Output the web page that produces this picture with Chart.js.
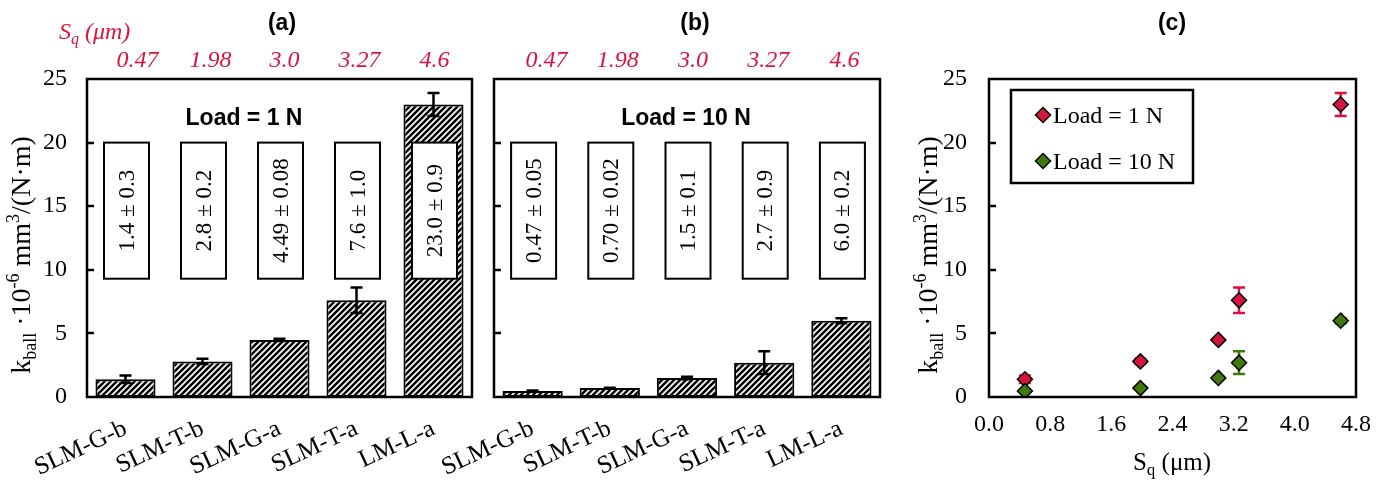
<!DOCTYPE html>
<html>
<head>
<meta charset="utf-8">
<script src="https://cdn.jsdelivr.net/npm/chart.js@4.4.1/dist/chart.umd.min.js"></script>
<style>
  html, body { margin: 0; padding: 0; background: #ffffff; }
  #wrap { position: relative; width: 1389px; height: 480px; overflow: hidden; background: #fff; }
  #wrap canvas { position: absolute; top: 0; }
</style>
</head>
<body>
<div id="wrap">
  <canvas id="panelA" width="480" height="480" style="left:0px"></canvas>
  <canvas id="panelB" width="470" height="480" style="left:430px"></canvas>
  <canvas id="panelC" width="489" height="480" style="left:900px"></canvas>
</div>
<script>
// ---- data ----
const samples   = ['SLM-G-b', 'SLM-T-b', 'SLM-G-a', 'SLM-T-a', 'LM-L-a'];
const sqValues  = [0.47, 1.98, 3.0, 3.27, 4.6];
const sqLabels  = ['0.47', '1.98', '3.0', '3.27', '4.6'];
const k1N       = [1.4, 2.8, 4.49, 7.6, 23.0];
const k1NErr    = [0.3, 0.2, 0.08, 1.0, 0.9];
const k1NDec    = [1, 1, 2, 1, 1];
const k10N      = [0.47, 0.70, 1.5, 2.7, 6.0];
const k10NErr   = [0.05, 0.02, 0.1, 0.9, 0.2];
const k10NDec   = [2, 2, 1, 1, 1];
const kTicks    = [0, 5, 10, 15, 20, 25];
const sqTicks   = [0.0, 0.8, 1.6, 2.4, 3.2, 4.0, 4.8];

const SERIF = '"Liberation Serif", "Times New Roman", serif';
const SANS  = '"Liberation Sans", Arial, sans-serif';
const RED   = '#d8143e';
const GREEN = '#3f7a0a';

Chart.defaults.font.family = SERIF;
Chart.defaults.color = '#000';

function valueText(vals, errs, dec) {
  return vals.map((v, i) => v.toFixed(dec[i]) + ' \u00b1 ' + errs[i].toFixed(dec[i]));
}

// diagonal hatch fill for the bars
function hatchPattern(ctx) {
  const s = 6;
  const c = document.createElement('canvas');
  c.width = s; c.height = s;
  const g = c.getContext('2d');
  g.fillStyle = '#fff'; g.fillRect(0, 0, s, s);
  g.strokeStyle = '#000'; g.lineWidth = 2.5; g.lineCap = 'square';
  g.beginPath();
  g.moveTo(-1, s + 1); g.lineTo(s + 1, -1);
  g.moveTo(-2, 2); g.lineTo(2, -2);
  g.moveTo(s - 2, s + 2); g.lineTo(s + 2, s - 2);
  g.stroke();
  return ctx.createPattern(c, 'repeat');
}

// text with sub/superscript parts along one baseline
function richWidth(ctx, parts) {
  let w = 0;
  parts.forEach(p => { ctx.font = p.font; w += ctx.measureText(p.t).width; });
  return w;
}
function drawRich(ctx, parts, x, y) {
  let cx = x;
  parts.forEach(p => {
    ctx.font = p.font;
    ctx.fillText(p.t, cx, y + (p.dy || 0));
    cx += ctx.measureText(p.t).width;
  });
}
function kTitleParts() {
  const big = '28px ' + SERIF, small = '18px ' + SERIF;
  return [
    { t: 'k', font: big },
    { t: 'ball', font: small, dy: 6 },
    { t: ' \u00b710', font: big },
    { t: '-6', font: small, dy: -11 },
    { t: ' mm', font: big },
    { t: '3', font: small, dy: -11 },
    { t: '/(N\u00b7m)', font: big }
  ];
}
function drawKTitle(ctx, baseX, centerY) {
  const parts = kTitleParts();
  ctx.save();
  ctx.fillStyle = '#000';
  ctx.textAlign = 'left';
  ctx.textBaseline = 'alphabetic';
  const w = richWidth(ctx, parts);
  ctx.translate(baseX, centerY);
  ctx.rotate(-Math.PI / 2);
  drawRich(ctx, parts, -w / 2, 0);
  ctx.restore();
}

// frame around the plot area with inward tick marks on the value axis
const framePlugin = {
  id: 'frame',
  afterDraw(chart) {
    const { ctx, chartArea: a } = chart;
    const y = chart.scales.y;
    ctx.save();
    ctx.strokeStyle = '#000';
    ctx.lineWidth = 2.5;
    kTicks.forEach(v => {
      if (v === y.min || v === y.max) return;
      const py = Math.round(y.getPixelForValue(v));
      ctx.beginPath(); ctx.moveTo(a.left, py); ctx.lineTo(a.left + 7, py); ctx.stroke();
    });
    ctx.strokeRect(a.left, a.top, a.right - a.left, a.bottom - a.top);
    ctx.restore();
  }
};

// value boxes, error bars and panel texts for the bar panels
const barDecor = {
  id: 'barDecor',
  afterDatasetsDraw(chart, args, o) {
    const ctx = chart.ctx;
    const y = chart.scales.y;
    const meta = chart.getDatasetMeta(0);
    const ds = chart.data.datasets[0];
    meta.data.forEach((bar, i) => {
      const top = y.getPixelForValue(20);
      const bot = y.getPixelForValue(9.3);
      const w = 45;
      const cx = bar.x + 1;
      ctx.save();
      ctx.fillStyle = '#fff';
      ctx.fillRect(cx - w / 2, top, w, bot - top);
      ctx.strokeStyle = '#000'; ctx.lineWidth = 2;
      ctx.strokeRect(cx - w / 2, top, w, bot - top);
      ctx.translate(cx, (top + bot) / 2);
      ctx.rotate(-Math.PI / 2);
      ctx.fillStyle = '#000';
      ctx.font = '23px ' + SERIF;
      ctx.textAlign = 'center'; ctx.textBaseline = 'middle';
      ctx.fillText(o.texts[i], 0, 1);
      ctx.restore();
    });
    ctx.save();
    ctx.strokeStyle = '#000'; ctx.lineWidth = 2.5;
    meta.data.forEach((bar, i) => {
      const v = ds.data[i], e = o.errors[i];
      const y1 = y.getPixelForValue(v + e), y2 = y.getPixelForValue(v - e);
      ctx.beginPath();
      ctx.moveTo(bar.x, y1); ctx.lineTo(bar.x, y2);
      ctx.moveTo(bar.x - 6, y1); ctx.lineTo(bar.x + 6, y1);
      ctx.moveTo(bar.x - 6, y2); ctx.lineTo(bar.x + 6, y2);
      ctx.stroke();
    });
    ctx.restore();
  },
  afterDraw(chart, args, o) {
    const ctx = chart.ctx;
    const x = chart.scales.x;
    ctx.save();
    ctx.fillStyle = '#000';
    ctx.textAlign = 'center'; ctx.textBaseline = 'middle';
    ctx.font = 'bold 23px ' + SANS;
    ctx.fillText(o.title, o.titleX, 24);
    ctx.font = 'bold 23px ' + SANS;
    ctx.fillText(o.load, o.loadX, 119);
    // roughness values above each sample
    ctx.fillStyle = RED;
    ctx.font = 'italic 24px ' + SERIF;
    ctx.textBaseline = 'alphabetic';
    sqLabels.forEach((t, i) => {
      ctx.fillText(t, x.getPixelForValue(i) + o.sqShift[i], 67);
    });
    if (o.sqHeader) {
      ctx.textAlign = 'left';
      drawRich(ctx, [
        { t: 'S', font: 'italic 24px ' + SERIF },
        { t: 'q', font: 'italic 16px ' + SERIF, dy: 5 },
        { t: ' (\u03bcm)', font: 'italic 24px ' + SERIF }
      ], 59, 39);
    }
    if (o.yTitle) drawKTitle(ctx, 30, 255);
    ctx.restore();
  }
};

function barPanel(id, values, errs, texts, areaLeft, areaRight, deco) {
  const canvas = document.getElementById(id);
  const ctx = canvas.getContext('2d');
  return new Chart(ctx, {
    type: 'bar',
    data: {
      labels: samples,
      datasets: [{
        data: values,
        backgroundColor: hatchPattern(ctx),
        borderColor: '#000',
        borderWidth: 2,
        borderSkipped: false,
        barPercentage: 0.78,
        categoryPercentage: 1.0
      }]
    },
    options: {
      responsive: false,
      animation: false,
      devicePixelRatio: 1,
      layout: { padding: { top: 79, right: canvas.width - areaRight, left: 0, bottom: 0 } },
      scales: {
        x: {
          grid: { display: false, drawTicks: false },
          border: { display: false },
          ticks: {
            autoSkip: false, minRotation: 25, maxRotation: 25, padding: 17,
            font: { size: 25, family: SERIF }, color: '#000'
          },
          afterFit(s) { s.height = 83; s.paddingLeft = 0; s.paddingRight = 0; }
        },
        y: {
          min: 0, max: 25,
          afterBuildTicks(s) { s.ticks = kTicks.map(v => ({ value: v })); },
          grid: { display: false, drawTicks: false },
          border: { display: false },
          ticks: {
            display: deco.yLabels, padding: 20,
            font: { size: 24, family: SERIF }, color: '#000'
          },
          afterFit(s) { s.width = areaLeft; }
        }
      },
      plugins: {
        legend: { display: false },
        tooltip: { enabled: false },
        barDecor: Object.assign({ texts, errors: errs }, deco)
      }
    },
    plugins: [barDecor, framePlugin]
  });
}

barPanel('panelA', k1N, k1NErr, valueText(k1N, k1NErr, k1NDec), 87, 472, {
  yLabels: true, title: '(a)', titleX: 282, load: 'Load = 1 N', loadX: 244,
  sqShift: [12, 8, 5, 3, 1], sqHeader: true, yTitle: true
});
barPanel('panelB', k10N, k10NErr, valueText(k10N, k10NErr, k10NDec), 64, 450, {
  yLabels: false, title: '(b)', titleX: 265, load: 'Load = 10 N', loadX: 256,
  sqShift: [14, 8, 6, 4, 3], sqHeader: false, yTitle: false
});

// ---- panel (c): k versus Sq ----
const scatterDecor = {
  id: 'scatterDecor',
  beforeDatasetsDraw(chart, args, o) {
    const ctx = chart.ctx;
    const { x, y } = chart.scales;
    ctx.save();
    ctx.lineWidth = 2.5;
    chart.data.datasets.forEach((ds, di) => {
      ctx.strokeStyle = ds.backgroundColor;
      const errs = o.errors[di];
      ds.data.forEach((p, i) => {
        const px = x.getPixelForValue(p.x);
        const y1 = y.getPixelForValue(p.y + errs[i]), y2 = y.getPixelForValue(p.y - errs[i]);
        ctx.beginPath();
        ctx.moveTo(px, y1); ctx.lineTo(px, y2);
        ctx.moveTo(px - 6, y1); ctx.lineTo(px + 6, y1);
        ctx.moveTo(px - 6, y2); ctx.lineTo(px + 6, y2);
        ctx.stroke();
      });
    });
    ctx.restore();
  },
  afterDraw(chart) {
    const ctx = chart.ctx;
    ctx.save();
    ctx.fillStyle = '#000';
    ctx.textAlign = 'center'; ctx.textBaseline = 'middle';
    ctx.font = 'bold 23px ' + SANS;
    ctx.fillText('(c)', 272, 24);
    // legend
    ctx.fillStyle = '#fff';
    ctx.fillRect(111, 90, 182, 93);
    ctx.strokeStyle = '#000'; ctx.lineWidth = 2.5;
    ctx.strokeRect(111, 90, 182, 93);
    [chart.data.datasets[1], chart.data.datasets[0]].forEach((ds, r) => {
      const cy = 115 + r * 46;
      ctx.fillStyle = ds.backgroundColor;
      ctx.strokeStyle = '#000'; ctx.lineWidth = 1.5;
      ctx.beginPath();
      ctx.moveTo(143, cy - 7.5); ctx.lineTo(150.5, cy); ctx.lineTo(143, cy + 7.5); ctx.lineTo(135.5, cy);
      ctx.closePath(); ctx.fill(); ctx.stroke();
      ctx.fillStyle = '#000';
      ctx.font = '24px ' + SERIF;
      ctx.textAlign = 'left'; ctx.textBaseline = 'alphabetic';
      ctx.fillText(ds.label, 153, cy + 8);
    });
    // axis titles
    drawKTitle(ctx, 37, 255);
    ctx.fillStyle = '#000';
    ctx.textAlign = 'left'; ctx.textBaseline = 'alphabetic';
    const parts = [
      { t: 'S', font: '25px ' + SERIF },
      { t: 'q', font: '17px ' + SERIF, dy: 5 },
      { t: ' (\u03bcm)', font: '25px ' + SERIF }
    ];
    const w = richWidth(ctx, parts);
    drawRich(ctx, parts, 272 - w / 2, 470);
    ctx.restore();
  }
};

(function () {
  const canvas = document.getElementById('panelC');
  const ctx = canvas.getContext('2d');
  new Chart(ctx, {
    type: 'scatter',
    data: {
      datasets: [
        {
          label: 'Load = 10 N',
          data: sqValues.map((v, i) => ({ x: v, y: k10N[i] })),
          backgroundColor: GREEN, borderColor: '#000', borderWidth: 1.5,
          pointStyle: 'rectRot', pointRadius: 7.5, order: 1
        },
        {
          label: 'Load = 1 N',
          data: sqValues.map((v, i) => ({ x: v, y: k1N[i] })),
          backgroundColor: RED, borderColor: '#000', borderWidth: 1.5,
          pointStyle: 'rectRot', pointRadius: 7.5, order: 2
        }
      ]
    },
    options: {
      responsive: false,
      animation: false,
      devicePixelRatio: 1,
      layout: { padding: { top: 79, right: canvas.width - 456, left: 0, bottom: 0 } },
      scales: {
        x: {
          type: 'linear', min: 0, max: 4.8,
          afterBuildTicks(s) { s.ticks = sqTicks.map(v => ({ value: v })); },
          grid: { display: false, drawTicks: false },
          border: { display: false },
          ticks: {
            padding: 13, maxRotation: 0, font: { size: 24, family: SERIF }, color: '#000',
            callback: v => Number(v).toFixed(1)
          },
          afterFit(s) { s.height = 83; s.paddingLeft = 0; s.paddingRight = 0; }
        },
        y: {
          min: 0, max: 25,
          afterBuildTicks(s) { s.ticks = kTicks.map(v => ({ value: v })); },
          grid: { display: false, drawTicks: false },
          border: { display: false },
          ticks: { padding: 22, font: { size: 24, family: SERIF }, color: '#000' },
          afterFit(s) { s.width = 89; }
        }
      },
      plugins: {
        legend: { display: false },
        tooltip: { enabled: false },
        scatterDecor: { errors: [k10NErr, k1NErr] }
      }
    },
    plugins: [scatterDecor, framePlugin]
  });
})();
</script>
</body>
</html>
